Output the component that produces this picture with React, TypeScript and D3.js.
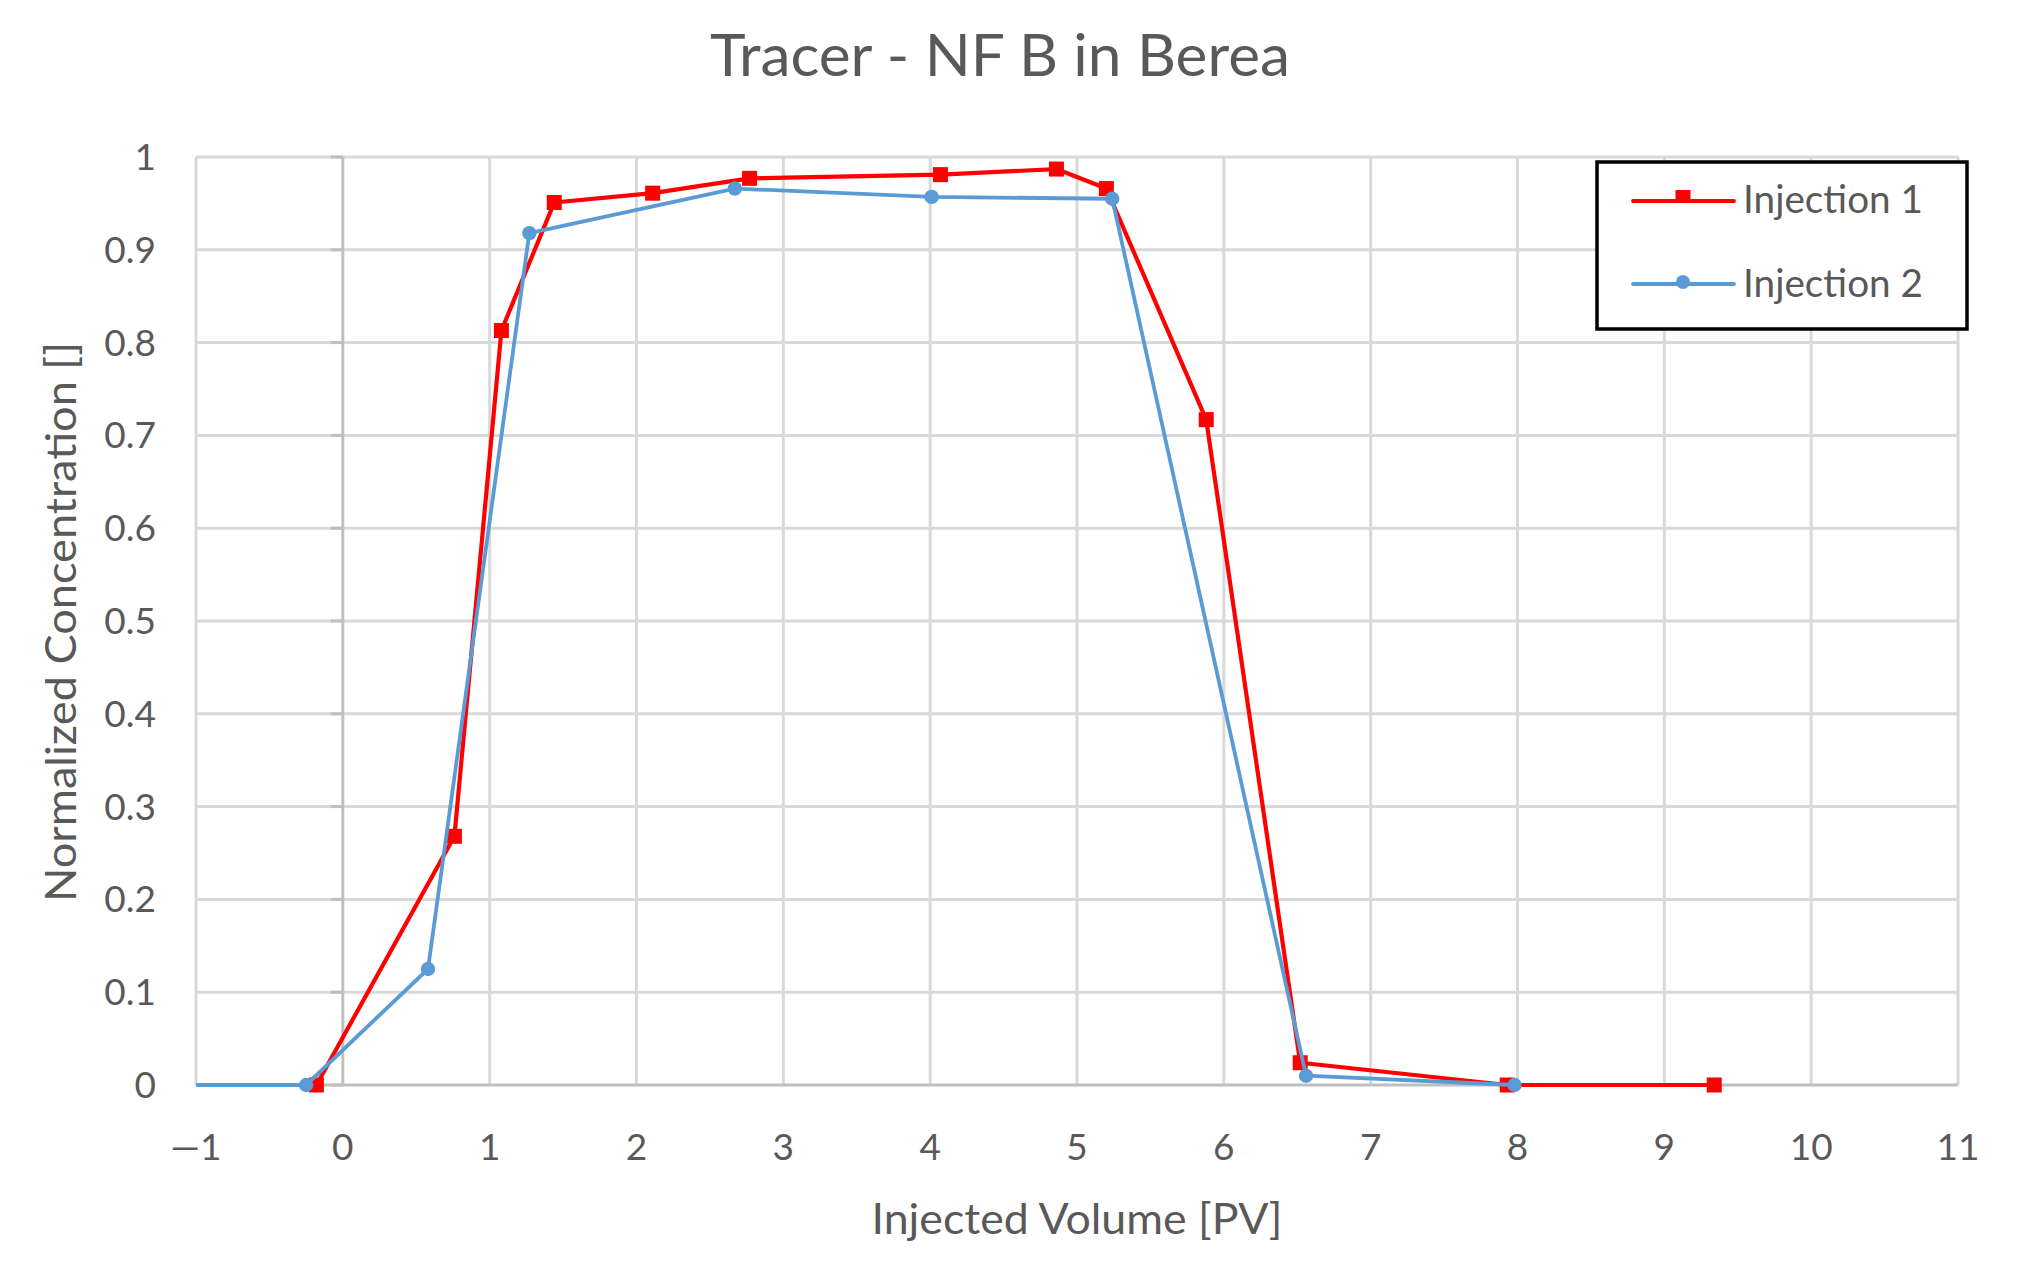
import React, { useEffect, useRef } from "react";
import * as d3 from "d3";

const titleText = "Tracer - NF B in Berea";
const xAxisTitle = "Injected Volume [PV]";
const yAxisTitle = "Normalized Concentration []";
const seriesNames = ["Injection 1", "Injection 2"];

const inj1X = [-0.18, 0.76, 1.08, 1.44, 2.11, 2.77, 4.07, 4.86, 5.2, 5.88, 6.52, 7.93, 9.34];
const inj1Y = [0, 0.268, 0.813, 0.951, 0.961, 0.977, 0.981, 0.987, 0.966, 0.717, 0.024, 0, 0];
const inj2X = [-2, -0.25, 0.58, 1.27, 2.67, 4.01, 5.24, 6.56, 7.98];
const inj2Y = [0, 0, 0.125, 0.918, 0.966, 0.957, 0.955, 0.01, 0];

const xTicks = [-1, 0, 1, 2, 3, 4, 5, 6, 7, 8, 9, 10, 11];
const yTicks = [0, 0.1, 0.2, 0.3, 0.4, 0.5, 0.6, 0.7, 0.8, 0.9, 1];

const W = 2021;
const H = 1265;
const FONT = "Lato, 'Open Sans', sans-serif";
const TEXT = "#595959";
const RED = "#ff0000";
const BLUE = "#5b9bd5";

export default function App() {
  const ref = useRef<SVGSVGElement | null>(null);

  useEffect(() => {
    document.body.style.margin = "0";
    const svg = d3.select(ref.current);
    svg.selectAll("*").remove();

    const x = d3.scaleLinear().domain([-1, 11]).range([196, 1958]);
    const y = d3.scaleLinear().domain([0, 1]).range([1085, 157]);

    svg.append("rect").attr("width", W).attr("height", H).attr("fill", "#fff");

    svg.append("defs").append("clipPath").attr("id", "plotclip")
      .append("rect")
      .attr("x", x(-1)).attr("y", y(1) - 20)
      .attr("width", x(11) - x(-1)).attr("height", y(0) - y(1) + 40);

    // gridlines
    const grid = svg.append("g");
    grid.selectAll("line.v").data(xTicks.filter((t) => t !== 0)).enter().append("line")
      .attr("x1", (d) => x(d)).attr("x2", (d) => x(d))
      .attr("y1", y(1)).attr("y2", y(0))
      .attr("stroke", "#d9d9d9").attr("stroke-width", 3);
    grid.selectAll("line.h").data(yTicks.filter((t) => t !== 0)).enter().append("line")
      .attr("x1", x(-1)).attr("x2", x(11))
      .attr("y1", (d) => y(d)).attr("y2", (d) => y(d))
      .attr("stroke", "#d9d9d9").attr("stroke-width", 3);

    // axes (cross at 0)
    grid.append("line")
      .attr("x1", x(0)).attr("x2", x(0)).attr("y1", y(1)).attr("y2", y(0))
      .attr("stroke", "#bfbfbf").attr("stroke-width", 3);
    grid.selectAll("line.tk").data(yTicks).enter().append("line")
      .attr("x1", x(0) - 12).attr("x2", x(0))
      .attr("y1", (d) => y(d)).attr("y2", (d) => y(d))
      .attr("stroke", "#bfbfbf").attr("stroke-width", 3);
    grid.append("line")
      .attr("x1", x(-1)).attr("x2", x(11)).attr("y1", y(0)).attr("y2", y(0))
      .attr("stroke", "#bfbfbf").attr("stroke-width", 3);

    // tick labels
    svg.append("g").selectAll("text").data(xTicks).enter().append("text")
      .attr("x", (d) => x(d)).attr("y", 1160)
      .attr("text-anchor", "middle")
      .attr("font-family", FONT).attr("font-size", 37).attr("fill", TEXT)
      .text((d) => (d < 0 ? "\u2014" + String(-d) : String(d)));
    svg.append("g").selectAll("text").data(yTicks).enter().append("text")
      .attr("x", 156).attr("y", (d) => y(d) + 13)
      .attr("text-anchor", "end")
      .attr("font-family", FONT).attr("font-size", 37).attr("fill", TEXT)
      .text((d) => String(d));

    // series
    const line = d3.line<[number, number]>().x((d) => x(d[0])).y((d) => y(d[1]));
    const s1: [number, number][] = inj1X.map((v, i) => [v, inj1Y[i]]);
    const s2: [number, number][] = inj2X.map((v, i) => [v, inj2Y[i]]);
    const plot = svg.append("g").attr("clip-path", "url(#plotclip)");

    plot.append("path").attr("d", line(s1)).attr("fill", "none")
      .attr("stroke", RED).attr("stroke-width", 4.2).attr("stroke-linejoin", "round");
    plot.selectAll("rect.m1").data(s1).enter().append("rect")
      .attr("x", (d) => x(d[0]) - 7.5).attr("y", (d) => y(d[1]) - 7.5)
      .attr("width", 15).attr("height", 15).attr("fill", RED);

    plot.append("path").attr("d", line(s2)).attr("fill", "none")
      .attr("stroke", BLUE).attr("stroke-width", 3.8).attr("stroke-linejoin", "round");
    plot.selectAll("circle.m2").data(s2).enter().append("circle")
      .attr("cx", (d) => x(d[0])).attr("cy", (d) => y(d[1]))
      .attr("r", 7.2).attr("fill", BLUE);

    // title
    svg.append("text").attr("x", 1000).attr("y", 76)
      .attr("text-anchor", "middle")
      .attr("font-family", FONT).attr("font-size", 59).attr("fill", TEXT)
      .attr("textLength", 580).attr("lengthAdjust", "spacingAndGlyphs")
      .text(titleText);

    // axis titles
    svg.append("text").attr("x", 1077).attr("y", 1234)
      .attr("text-anchor", "middle")
      .attr("font-family", FONT).attr("font-size", 42).attr("fill", TEXT)
      .attr("textLength", 411).attr("lengthAdjust", "spacingAndGlyphs")
      .text(xAxisTitle);
    svg.append("text")
      .attr("transform", `translate(76,622) rotate(-90)`)
      .attr("text-anchor", "middle")
      .attr("font-family", FONT).attr("font-size", 42).attr("fill", TEXT)
      .attr("textLength", 560).attr("lengthAdjust", "spacingAndGlyphs")
      .text(yAxisTitle);

    // legend
    const lg = svg.append("g");
    lg.append("rect").attr("x", 1597).attr("y", 162).attr("width", 370).attr("height", 167)
      .attr("fill", "#fff").attr("stroke", "#000").attr("stroke-width", 3.5);
    const rows = [
      { name: seriesNames[0], color: RED, ly: 201, ty: 213, shape: "square" },
      { name: seriesNames[1], color: BLUE, ly: 284, ty: 297, shape: "circle" },
    ];
    rows.forEach((r) => {
      lg.append("line").attr("x1", 1633).attr("x2", 1734).attr("y1", r.ly).attr("y2", r.ly)
        .attr("stroke", r.color).attr("stroke-width", 3.8).attr("stroke-linecap", "round");
      if (r.shape === "square") {
        lg.append("rect").attr("x", 1683 - 7.5).attr("y", r.ly - 11).attr("width", 15).attr("height", 11)
          .attr("fill", r.color);
      } else {
        lg.append("circle").attr("cx", 1683).attr("cy", r.ly - 2).attr("r", 7).attr("fill", r.color);
      }
      lg.append("text").attr("x", 1743).attr("y", r.ty)
        .attr("font-family", FONT).attr("font-size", 38).attr("fill", TEXT)
        .attr("textLength", 180).attr("lengthAdjust", "spacingAndGlyphs")
        .text(r.name);
    });
  }, []);

  return <svg ref={ref} width={W} height={H} style={{ display: "block" }} />;
}
